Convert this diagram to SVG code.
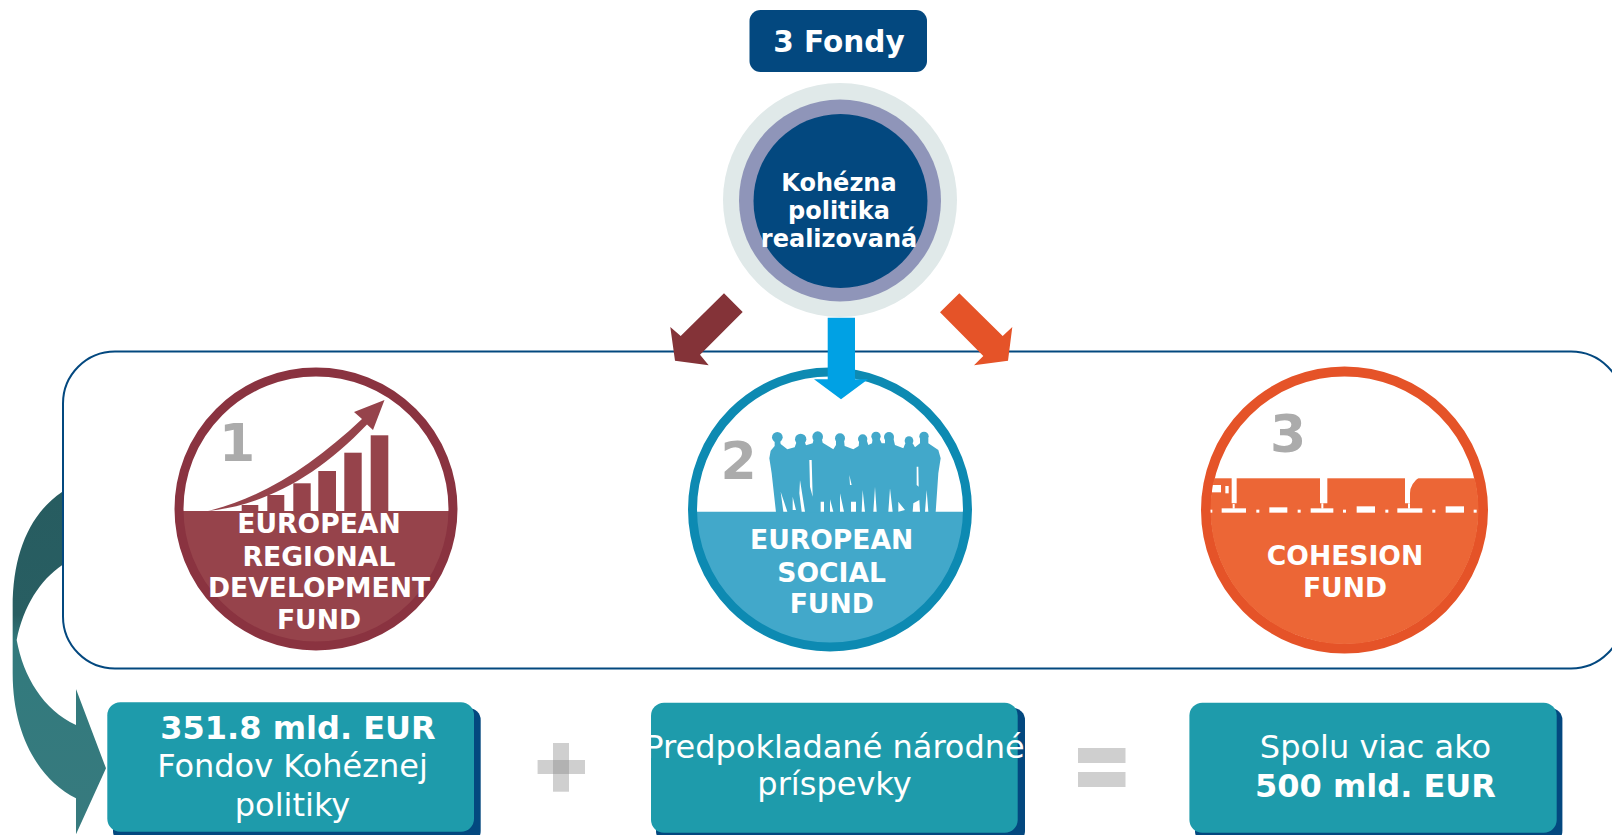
<svg xmlns="http://www.w3.org/2000/svg" width="1612" height="835" viewBox="0 0 1612 835">
<defs>
<style>
text{font-family:"DejaVu Sans","Liberation Sans",sans-serif;text-anchor:middle;fill:#fff}
.b{font-weight:700}
.fund{font-weight:700;font-size:26.600px}
.num{font-weight:700;font-size:52px;fill:#ababab}
.lg{font-size:32px}
.box{fill:#1e9bab}
.shadow{fill:#03487f}
</style>
<linearGradient id="teal" x1="0" y1="0" x2="0" y2="1">
<stop offset="0" stop-color="#275c60"/><stop offset="0.36" stop-color="#285e62"/><stop offset="0.44" stop-color="#327a7d"/><stop offset="1" stop-color="#377a7e"/>
</linearGradient>
<filter id="soft" x="-10%" y="-10%" width="120%" height="120%"><feGaussianBlur stdDeviation="0.7"/></filter>
</defs>
<rect width="1612" height="835" fill="#fff"/>
<g id="connectors">
<path id="curved-arrow" transform="translate(0 340) scale(.33333)" fill="url(#teal)" d="M187,455C90,520 38,640 38,800L38,1000C38,1190 120,1320 228,1375L228,1483L318,1285L228,1047L228,1155C130,1110 70,1010 50,900C70,800 120,720 187,675Z"/>
</g>
<g id="frame"><rect x="63" y="351.500" width="1560" height="317" rx="52" fill="none" stroke="#03487f" stroke-width="2"/></g>
<g id="title"><rect x="749.500" y="10" width="177.500" height="62" rx="11" fill="#03487f"/><text class="b" x="839" y="52" font-size="29.500">3 Fondy</text></g>
<g id="center">
<circle cx="840" cy="200" r="117" fill="#e0e9e9"/><circle cx="840" cy="200.500" r="101" fill="#8f95b9"/><circle cx="840.500" cy="201" r="87" fill="#03487f"/>
<g class="b" font-size="24"><text x="839" y="191">Kohézna</text><text x="839" y="219">politika</text><text x="839" y="247">realizovaná</text></g>
</g>
<g id="fund1">
<circle cx="316" cy="509" r="137" fill="#fff"/>
<path d="M179,511A137,137 0 0 0 453,511Z" fill="#96434b"/>
<circle cx="316" cy="509" r="137" fill="none" stroke="#8a3340" stroke-width="9"/>
<g fill="#96434b"><rect x="241.700" y="505" width="16.600" height="7"/><rect x="267.300" y="495" width="17" height="17"/><rect x="293.300" y="483.300" width="17.400" height="29"/><rect x="318.300" y="471" width="17.700" height="41"/><rect x="344.300" y="452.700" width="17.400" height="59"/><rect x="370.700" y="435.300" width="17.600" height="77"/></g>
<path d="M208,511C262,498 312,466 362,419L354,412L384.500,400L373,430L367,424.500C318,476 265,505 208,511Z" fill="#96434b"/>
<text class="num" x="237" y="460.700">1</text>
<g class="fund"><text x="319" y="533.300">EUROPEAN</text><text x="319" y="565.500">REGIONAL</text><text x="319" y="597.300">DEVELOPMENT</text><text x="319" y="629.300">FUND</text></g>
</g>
<g id="fund2">
<circle cx="830" cy="509.500" r="137.500" fill="#fff"/>
<path d="M692.500,511.700A137.500,137.500 0 0 0 967.500,511.700Z" fill="#42a8ca"/>
<circle cx="830" cy="509.500" r="137.500" fill="none" stroke="#0d8ab2" stroke-width="9"/>
<g transform="translate(670 360) scale(.33333)">
<g fill="#42a8ca"><circle cx="322" cy="232" r="16"/><circle cx="392" cy="238" r="17"/><circle cx="443" cy="230" r="16"/><circle cx="510" cy="235" r="15"/><circle cx="578" cy="237" r="14"/><circle cx="618" cy="229" r="14"/><circle cx="657" cy="231" r="15"/><circle cx="717" cy="242" r="13"/><circle cx="762" cy="229" r="14"/>
<path d="M298,295L302,272L314,258L314,240L330,240L332,252L352,268L374,262L380,245L404,245L408,256L428,250L432,235L455,235L458,248L490,268L498,255L498,240L522,240L524,258L550,268L566,258L568,240L590,240L595,255L606,250L608,235L628,235L635,250L645,250L645,235L670,235L675,255L700,265L706,250L728,250L735,262L750,250L750,235L775,235L775,250L805,270L812,295L805,340L797,457L318,457L305,340Z"/></g>
<path fill="#fff" d="M332,395L352,455L340,455ZM368,410L378,450L368,450ZM390,360L405,455L395,455L388,400ZM418,300L425,300L428,410L420,380ZM452,425L462,425L462,455L452,455ZM480,418L490,455L480,455ZM510,400L522,455L510,455ZM538,345L545,375L540,375ZM543,425L558,425L558,455L543,455ZM578,390L585,455L575,455ZM615,380L620,455L610,455ZM660,385L668,455L655,455ZM685,425L705,450L685,455ZM730,430L748,420L750,455L728,455ZM740,320L745,320L746,380L740,375ZM770,390L775,455L765,455Z"/>
</g>
<text class="num" x="738.500" y="479.300">2</text>
<g class="fund"><text x="831.700" y="549.300">EUROPEAN</text><text x="831.700" y="581.500">SOCIAL</text><text x="831.700" y="613.300">FUND</text></g>
</g>
<g id="fund3">
<circle cx="1344.500" cy="510" r="138.500" fill="#fff" stroke="#e55328" stroke-width="10"/>
<clipPath id="c3"><circle cx="1344.500" cy="510" r="134"/></clipPath>
<g clip-path="url(#c3)">
<rect x="1200" y="478.300" width="290" height="180" fill="#ec6636"/>
<g transform="translate(1180 360) scale(.33333)" fill="#fff">
<rect x="95" y="375" width="28" height="22"/><rect x="136" y="378" width="10" height="22"/>
<path d="M155,350L170,350L170,430L155,430ZM420,350L442,350L442,430L420,430ZM675,350L720,350Q690,370 690,400L690,430L675,430Z"/>
<rect x="125" y="445" width="73" height="13"/><rect x="268" y="442" width="54" height="16"/><rect x="392" y="445" width="68" height="13"/><rect x="530" y="439" width="55" height="19"/><rect x="652" y="445" width="75" height="13"/><rect x="797" y="439" width="55" height="19"/>
<rect x="88" y="449" width="9" height="9"/><rect x="229" y="449" width="9" height="9"/><rect x="353" y="449" width="9" height="9"/><rect x="489" y="449" width="9" height="9"/><rect x="616" y="449" width="9" height="9"/><rect x="757" y="449" width="9" height="9"/><rect x="881" y="449" width="9" height="9"/>
<rect x="158" y="432" width="6" height="14"/><rect x="424" y="430" width="6" height="16"/><rect x="684" y="430" width="6" height="16"/>
</g>
</g>
<text class="num" x="1288" y="451.500">3</text>
<g class="fund"><text x="1345" y="565">COHESION</text><text x="1345" y="597.300">FUND</text></g>
</g>
<g id="arrows">
<polygon points="724,293.300 742.700,312 700,354.700 708.700,365.300 675,360.700 670.300,327 680.700,336" fill="#843338"/>
<polygon points="827.700,317.700 855,317.700 855,379.300 868,379.300 841,399.300 814,379.300 827.700,379.300" fill="#00a1e4"/>
<polygon points="959.300,293.300 1002.700,336 1012.300,327 1008,360.700 974,365.300 983.300,356 940,312.300" fill="#e55328"/>
</g>
<g id="box1">
<rect class="shadow" x="113" y="708" width="367.700" height="135" rx="12"/><rect class="box" x="107.300" y="702.300" width="366.700" height="129.400" rx="13"/>
<text class="b lg" x="298" y="739.300">351.8 mld. EUR</text><text class="lg" x="292.500" y="777.300">Fondov Kohéznej</text><text class="lg" x="292.500" y="816">politiky</text>
</g>
<g id="plus" filter="url(#soft)"><rect x="553" y="743" width="16" height="48.700" fill="#888" opacity=".4"/><rect x="537.600" y="760" width="47.400" height="14" fill="#888" opacity=".4"/></g>
<g id="box2">
<rect class="shadow" x="656" y="708" width="369" height="135" rx="12"/><rect class="box" x="651" y="702.700" width="366.700" height="130" rx="13"/>
<text class="lg" x="834.500" y="758">Predpokladané národné</text><text class="lg" x="834.500" y="795">príspevky</text>
</g>
<g id="equals" filter="url(#soft)"><rect x="1078" y="748" width="47.500" height="15" fill="#cfcfcf"/><rect x="1078" y="772" width="47.500" height="15" fill="#cfcfcf"/></g>
<g id="box3">
<rect class="shadow" x="1195" y="708" width="367.400" height="135" rx="12"/><rect class="box" x="1189.400" y="702.700" width="367.300" height="130" rx="13"/>
<text class="lg" x="1375.500" y="758">Spolu viac ako</text><text class="b lg" x="1375.500" y="797">500 mld. EUR</text>
</g>
</svg>
